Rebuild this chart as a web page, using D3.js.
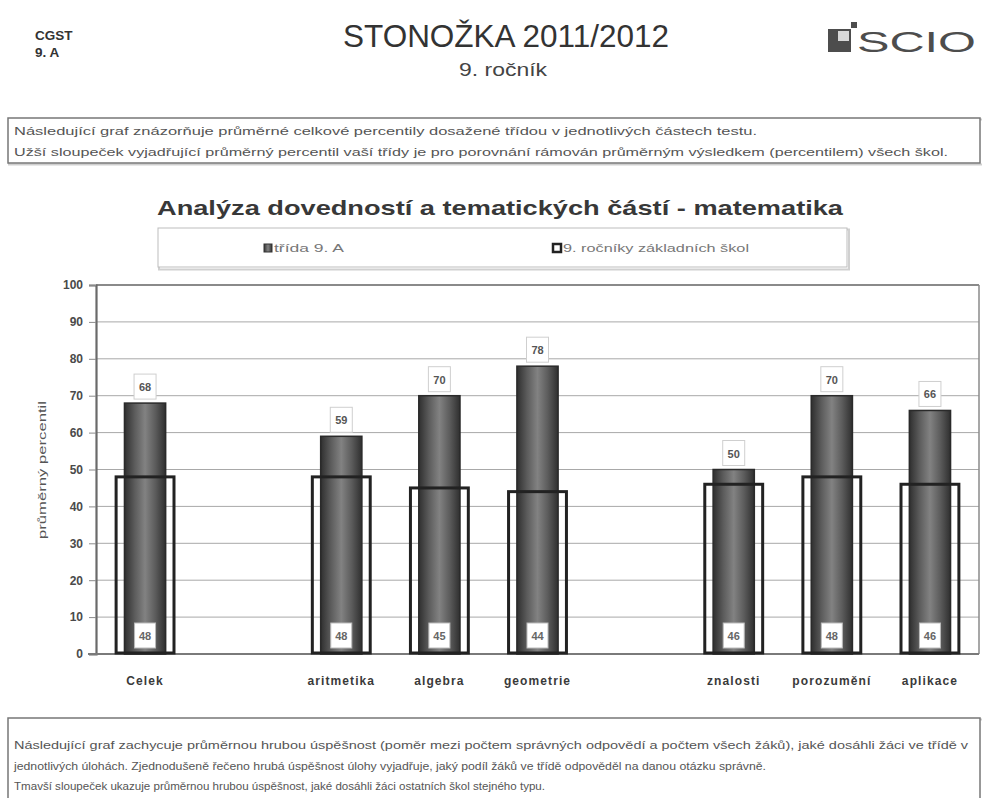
<!DOCTYPE html>
<html>
<head>
<meta charset="utf-8">
<script src="https://cdn.jsdelivr.net/npm/d3@7"></script>
<style>
  html, body { margin: 0; padding: 0; background: #fff; }
  svg { display: block; }
</style>
</head>
<body>
<script>
// ---- data ----
const categories = ["Celek", "aritmetika", "algebra", "geometrie", "znalosti", "porozumění", "aplikace"];
const categoryGroup = [0, 1, 1, 1, 2, 2, 2];
const classValues = [68, 59, 70, 78, 50, 70, 66];   // třída 9. A
const schoolValues = [48, 48, 45, 44, 46, 48, 46];  // 9. ročníky základních škol
const yTicks = [0, 10, 20, 30, 40, 50, 60, 70, 80, 90, 100];
const seriesNames = ["třída 9. A", "9. ročníky základních škol"];
const chartTitle = "Analýza dovedností a tematických částí - matematika";
const yAxisTitle = "průměrný percentil";
const headerLeft = ["CGST", "9. A"];
const pageTitle = "STONOŽKA 2011/2012";
const pageSubtitle = "9. ročník";
const topNote = [
  "Následující graf znázorňuje průměrné celkové percentily dosažené třídou v jednotlivých částech testu.",
  "Užší sloupeček vyjadřující průměrný percentil vaší třídy je pro porovnání rámován průměrným výsledkem (percentilem) všech škol."
];
const bottomNote = [
  "Následující graf zachycuje průměrnou hrubou úspěšnost (poměr mezi počtem správných odpovědí a počtem všech žáků), jaké dosáhli žáci ve třídě v",
  "jednotlivých úlohách. Zjednodušeně řečeno hrubá úspěšnost úlohy vyjadřuje, jaký podíl žáků ve třídě odpověděl na danou otázku správně.",
  "Tmavší sloupeček ukazuje průměrnou hrubou úspěšnost, jaké dosáhli žáci ostatních škol stejného typu."
];

// ---- layout ----
const W = 982, H = 798;
const plot = { left: 96, right: 979, top: 285, bottom: 654 };
const narrow = "'Liberation Sans Narrow', 'Arial Narrow', 'Liberation Sans', Arial, sans-serif";
const sans = "'Liberation Sans', Arial, sans-serif";

const svg = d3.select("body").append("svg").attr("width", W).attr("height", H);
const defs = svg.append("defs");
const grad = defs.append("linearGradient").attr("id", "barGrad").attr("x1", "0%").attr("x2", "100%").attr("y1", "0%").attr("y2", "0%");
[[0, "#2f2f2f"], [0.25, "#5c5c5c"], [0.5, "#828282"], [0.75, "#5c5c5c"], [1, "#2f2f2f"]].forEach(([o, c]) =>
  grad.append("stop").attr("offset", o).attr("stop-color", c));

function fit(sel, w) { return sel.attr("textLength", w).attr("lengthAdjust", "spacingAndGlyphs"); }

// ---- header ----
svg.selectAll("text.hl").data(headerLeft).join("text")
  .attr("class", "hl").attr("x", 35).attr("y", (d, i) => 40 + i * 17)
  .attr("font-family", sans).attr("font-weight", "bold").attr("font-size", 13.5).attr("fill", "#333")
  .text(d => d);

fit(svg.append("text").attr("x", 343).attr("y", 47)
  .attr("font-family", narrow).attr("font-size", 31).attr("fill", "#333").text(pageTitle), 326);
fit(svg.append("text").attr("x", 459).attr("y", 76)
  .attr("font-family", narrow).attr("font-size", 19).attr("fill", "#444").text(pageSubtitle), 88);

// SCIO logo
const logo = svg.append("g");
logo.append("rect").attr("x", 828).attr("y", 29).attr("width", 23).attr("height", 23).attr("fill", "#4d4d4d");
logo.append("rect").attr("x", 838).attr("y", 31).attr("width", 11).attr("height", 10).attr("fill", "#d8d8d8");
logo.append("rect").attr("x", 851).attr("y", 22).attr("width", 6).attr("height", 6).attr("fill", "#4d4d4d");
fit(logo.append("text").attr("x", 857).attr("y", 52)
  .attr("font-family", sans).attr("font-size", 30).attr("fill", "#4d4d4d").text("SCIO"), 119);

// ---- note boxes ----
function noteBox(y, h, lines, widths, firstBase) {
  svg.append("rect").attr("x", 9).attr("y", y + 1.5).attr("width", 975).attr("height", h)
    .attr("fill", "none").attr("stroke", "#cfcfcf").attr("stroke-width", 2);
  svg.append("rect").attr("x", 8).attr("y", y).attr("width", 972).attr("height", h)
    .attr("fill", "#fff").attr("stroke", "#777").attr("stroke-width", 1.5);
  lines.forEach((t, i) => {
    fit(svg.append("text").attr("x", 14).attr("y", firstBase + i * 20.5)
      .attr("font-family", narrow).attr("font-size", 11).attr("fill", "#555").text(t), widths[i]);
  });
}
noteBox(118, 45, topNote, [743, 934], 135);
noteBox(718, 100, bottomNote, [954, 752, 531], 749);

// ---- chart title ----
fit(svg.append("text").attr("x", 157).attr("y", 215)
  .attr("font-family", sans).attr("font-weight", "bold").attr("font-size", 21).attr("fill", "#383838")
  .text(chartTitle), 686);

// ---- legend ----
svg.append("rect").attr("x", 159).attr("y", 229.5).attr("width", 690).attr("height", 40)
  .attr("fill", "none").attr("stroke", "#d0d0d0").attr("stroke-width", 2);
svg.append("rect").attr("x", 158).attr("y", 228).attr("width", 689).attr("height", 39)
  .attr("fill", "#fff").attr("stroke", "#bdbdbd").attr("stroke-width", 1);
const legendItems = [
  { x: 264, w: 70, fill: "url(#barGrad)", stroke: "#333", sw: 1 },
  { x: 553, w: 186, fill: "#fff", stroke: "#222", sw: 2.5 }
];
legendItems.forEach((it, i) => {
  svg.append("rect").attr("x", it.x).attr("y", 244).attr("width", 8).attr("height", 8)
    .attr("fill", it.fill).attr("stroke", it.stroke).attr("stroke-width", it.sw);
  fit(svg.append("text").attr("x", it.x + 10).attr("y", 252)
    .attr("font-family", sans).attr("font-size", 10).attr("fill", "#777").text(seriesNames[i]), it.w);
});

// ---- scales ----
const slots = d3.range(9);
const x = d3.scaleBand().domain(slots).range([plot.left, plot.right]).padding(0);
const y = d3.scaleLinear().domain([0, 100]).range([plot.bottom, plot.top]);
const slotOf = i => i + categoryGroup[i];
const barW = x.bandwidth() * 0.42;
const frameW = x.bandwidth() * 0.59;
const cx = i => x(slotOf(i)) + x.bandwidth() / 2;

// gridlines
svg.append("g").selectAll("line").data(yTicks.filter(t => t > 0 && t < 100)).join("line")
  .attr("x1", plot.left).attr("x2", plot.right)
  .attr("y1", d => y(d)).attr("y2", d => y(d))
  .attr("stroke", "#a8a8a8").attr("stroke-width", 1);
// plot border top & right
svg.append("line").attr("x1", plot.left).attr("x2", plot.right).attr("y1", y(100)).attr("y2", y(100))
  .attr("stroke", "#8a8a8a").attr("stroke-width", 2);
svg.append("line").attr("x1", plot.right).attr("x2", plot.right).attr("y1", y(100)).attr("y2", y(0))
  .attr("stroke", "#8a8a8a").attr("stroke-width", 1.5);

// y axis
const yAxis = d3.axisLeft(y).tickValues(yTicks).tickSize(7).tickPadding(6);
const yg = svg.append("g").attr("transform", `translate(${plot.left},0)`).call(yAxis);
yg.select(".domain").attr("stroke", "#6a6a6a").attr("stroke-width", 2.2);
yg.selectAll(".tick line").attr("stroke", "#8a8a8a").attr("stroke-width", 1);
yg.selectAll(".tick text").attr("font-family", sans).attr("font-weight", "bold")
  .attr("font-size", 12).attr("fill", "#4a4a4a");

// bottom axis line
svg.append("line").attr("x1", plot.left - 8).attr("x2", plot.right).attr("y1", y(0)).attr("y2", y(0))
  .attr("stroke", "#7a7a7a").attr("stroke-width", 2);

// y axis title
fit(svg.append("text").attr("transform", `translate(46,${(400 + 540) / 2}) rotate(-90)`)
  .attr("text-anchor", "middle").attr("font-family", sans).attr("font-size", 11).attr("fill", "#555")
  .text(yAxisTitle), 138);

// x labels
const xAxis = d3.axisBottom(x).tickValues(categories.map((c, i) => slotOf(i)))
  .tickFormat(s => categories[categoryGroup.map((g, i) => i + g).indexOf(s)]).tickSize(0).tickPadding(22);
const xg = svg.append("g").attr("transform", `translate(0,${plot.bottom})`).call(xAxis);
xg.select(".domain").remove();
xg.selectAll(".tick text").attr("font-family", sans).attr("font-weight", "bold")
  .attr("font-size", 12).attr("letter-spacing", 1.1).attr("fill", "#3a3a3a");

// class bars
const idx = d3.range(categories.length);
svg.append("g").selectAll("rect").data(idx).join("rect")
  .attr("x", i => cx(i) - barW / 2).attr("width", barW)
  .attr("y", i => y(classValues[i])).attr("height", i => y(0) - y(classValues[i]))
  .attr("fill", "url(#barGrad)").attr("stroke", "#2a2a2a").attr("stroke-width", 1.5);

// school frames
svg.append("g").selectAll("rect").data(idx).join("rect")
  .attr("x", i => cx(i) - frameW / 2).attr("width", frameW)
  .attr("y", i => y(schoolValues[i])).attr("height", i => y(0) - y(schoolValues[i]) - 1)
  .attr("fill", "none").attr("stroke", "#222").attr("stroke-width", 3);

// class value labels (above bars)
const topLab = svg.append("g").selectAll("g").data(idx).join("g")
  .attr("transform", i => `translate(${cx(i)},${y(classValues[i]) - 4})`);
topLab.append("rect").attr("x", -11).attr("y", -25).attr("width", 22).attr("height", 25)
  .attr("fill", "#fff").attr("stroke", "#cfcfcf").attr("stroke-width", 1);
topLab.append("text").attr("y", -8).attr("text-anchor", "middle")
  .attr("font-family", sans).attr("font-weight", "bold").attr("font-size", 11).attr("fill", "#555")
  .text(i => classValues[i]);

// school value labels (bottom inside frame)
const botLab = svg.append("g").selectAll("g").data(idx).join("g")
  .attr("transform", i => `translate(${cx(i)},${y(0) - 31})`);
botLab.append("rect").attr("x", -10.5).attr("y", 0).attr("width", 21).attr("height", 25)
  .attr("fill", "#fff").attr("stroke", "#bbb").attr("stroke-width", 1);
botLab.append("text").attr("y", 17).attr("text-anchor", "middle")
  .attr("font-family", sans).attr("font-weight", "bold").attr("font-size", 11).attr("fill", "#666")
  .text(i => schoolValues[i]);
</script>
</body>
</html>
